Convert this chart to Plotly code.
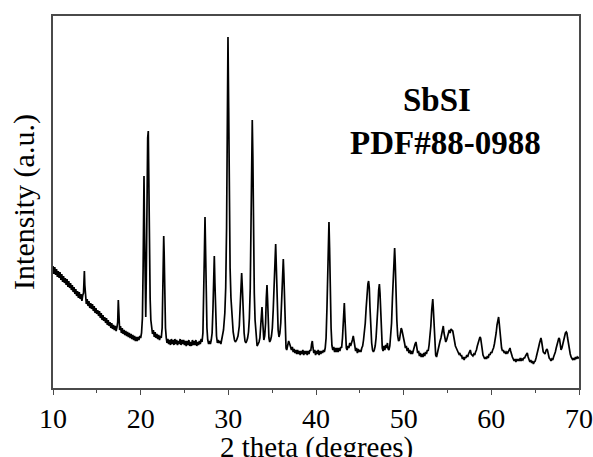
#!/usr/bin/env python3

import plotly.graph_objects as go

# XRD pattern (intensity in arbitrary units).
two_theta = [
    10.0, 10.1, 10.2, 10.3, 10.4, 10.5, 10.6, 10.7, 10.8, 10.9, 11.0, 11.1, 11.2, 11.3, 11.4, 11.5,
    11.6, 11.7, 11.8, 11.9, 12.0, 12.1, 12.2, 12.3, 12.4, 12.5, 12.6, 12.7, 12.8, 12.9, 13.0, 13.1,
    13.2, 13.3, 13.4, 13.48, 13.53, 13.58, 13.63, 13.7, 13.8, 13.9, 14.0, 14.1, 14.2, 14.3, 14.4,
    14.5, 14.6, 14.7, 14.8, 14.9, 15.0, 15.1, 15.2, 15.3, 15.4, 15.5, 15.6, 15.7, 15.8, 15.9, 16.0,
    16.1, 16.2, 16.3, 16.4, 16.5, 16.6, 16.7, 16.8, 16.9, 17.0, 17.1, 17.2, 17.3, 17.38, 17.45,
    17.52, 17.6, 17.7, 17.8, 17.9, 18.0, 18.1, 18.2, 18.3, 18.4, 18.5, 18.6, 18.7, 18.8, 18.9, 19.0,
    19.1, 19.2, 19.3, 19.4, 19.5, 19.6, 19.7, 19.8, 19.9, 20.0, 20.1, 20.2, 20.28, 20.34, 20.38,
    20.45, 20.52, 20.58, 20.64, 20.72, 20.8, 20.87, 20.93, 21.0, 21.08, 21.16, 21.25, 21.35, 21.45,
    21.55, 21.65, 21.75, 21.85, 21.95, 22.05, 22.15, 22.25, 22.35, 22.45, 22.52, 22.58, 22.63,
    22.68, 22.75, 22.83, 22.92, 23.0, 23.1, 23.2, 23.3, 23.4, 23.5, 23.6, 23.7, 23.8, 23.9, 24.0,
    24.1, 24.2, 24.3, 24.4, 24.5, 24.6, 24.7, 24.8, 24.9, 25.0, 25.1, 25.2, 25.3, 25.4, 25.5, 25.6,
    25.7, 25.8, 25.9, 26.0, 26.1, 26.2, 26.3, 26.4, 26.5, 26.6, 26.7, 26.8, 26.9, 27.0, 27.1, 27.2,
    27.28, 27.34, 27.4, 27.48, 27.56, 27.65, 27.75, 27.85, 27.95, 28.05, 28.15, 28.25, 28.33, 28.4,
    28.47, 28.55, 28.65, 28.75, 28.85, 28.95, 29.05, 29.15, 29.3, 29.45, 29.6, 29.7, 29.8, 29.88,
    29.96, 30.04, 30.12, 30.2, 30.3, 30.42, 30.55, 30.7, 30.8, 30.95, 31.1, 31.25, 31.35, 31.45,
    31.52, 31.6, 31.7, 31.8, 31.9, 32.0, 32.1, 32.2, 32.3, 32.4, 32.5, 32.6, 32.67, 32.73, 32.8,
    32.88, 32.96, 33.05, 33.15, 33.28, 33.4, 33.5, 33.6, 33.7, 33.78, 33.84, 33.9, 33.98, 34.05,
    34.15, 34.25, 34.33, 34.41, 34.48, 34.55, 34.63, 34.72, 34.82, 34.92, 35.02, 35.12, 35.22,
    35.32, 35.4, 35.48, 35.58, 35.68, 35.78, 35.88, 35.98, 36.06, 36.14, 36.22, 36.27, 36.33,
    36.42, 36.5, 36.58, 36.66, 36.76, 36.88, 37.0, 37.1, 37.2, 37.3, 37.4, 37.5, 37.6, 37.7, 37.8,
    37.9, 38.0, 38.1, 38.2, 38.3, 38.4, 38.5, 38.6, 38.7, 38.8, 38.9, 39.0, 39.1, 39.2, 39.3, 39.4,
    39.5, 39.58, 39.66, 39.75, 39.85, 39.95, 40.05, 40.15, 40.25, 40.35, 40.45, 40.55, 40.65,
    40.75, 40.85, 40.95, 41.05, 41.15, 41.25, 41.33, 41.41, 41.48, 41.55, 41.63, 41.72, 41.82,
    41.92, 42.02, 42.12, 42.22, 42.32, 42.42, 42.52, 42.62, 42.72, 42.82, 42.92, 43.02, 43.1,
    43.17, 43.23, 43.3, 43.38, 43.46, 43.55, 43.65, 43.75, 43.85, 43.95, 44.05, 44.15, 44.25,
    44.33, 44.42, 44.52, 44.62, 44.72, 44.82, 44.92, 45.02, 45.12, 45.22, 45.32, 45.42, 45.52,
    45.62, 45.72, 45.82, 45.92, 46.0, 46.08, 46.16, 46.25, 46.35, 46.45, 46.55, 46.65, 46.75,
    46.85, 46.95, 47.05, 47.15, 47.23, 47.3, 47.38, 47.47, 47.56, 47.65, 47.75, 47.85, 47.95,
    48.05, 48.15, 48.23, 48.32, 48.42, 48.52, 48.62, 48.72, 48.82, 48.9, 48.97, 49.04, 49.12,
    49.22, 49.32, 49.42, 49.52, 49.62, 49.72, 49.8, 49.9, 50.0, 50.1, 50.2, 50.3, 50.4, 50.5, 50.6,
    50.7, 50.8, 50.9, 51.0, 51.1, 51.2, 51.3, 51.4, 51.5, 51.6, 51.7, 51.8, 51.9, 52.0, 52.1, 52.2,
    52.3, 52.4, 52.5, 52.6, 52.7, 52.8, 52.9, 53.0, 53.1, 53.2, 53.27, 53.32, 53.38, 53.46, 53.55,
    53.65, 53.75, 53.85, 53.95, 54.05, 54.15, 54.25, 54.35, 54.45, 54.52, 54.6, 54.7, 54.8, 54.9,
    55.0, 55.1, 55.2, 55.3, 55.4, 55.5, 55.6, 55.7, 55.8, 55.9, 56.0, 56.1, 56.2, 56.3, 56.4, 56.5,
    56.6, 56.7, 56.8, 56.9, 57.0, 57.1, 57.2, 57.3, 57.4, 57.5, 57.6, 57.7, 57.8, 57.9, 58.0, 58.1,
    58.2, 58.3, 58.4, 58.5, 58.6, 58.7, 58.78, 58.86, 58.95, 59.05, 59.15, 59.25, 59.35, 59.45,
    59.55, 59.65, 59.75, 59.85, 59.95, 60.05, 60.15, 60.25, 60.35, 60.45, 60.55, 60.65, 60.75,
    60.83, 60.9, 60.98, 61.07, 61.17, 61.27, 61.37, 61.47, 61.57, 61.67, 61.77, 61.87, 61.97,
    62.07, 62.13, 62.2, 62.3, 62.4, 62.5, 62.6, 62.7, 62.8, 62.9, 63.0, 63.1, 63.2, 63.3, 63.4,
    63.5, 63.6, 63.7, 63.8, 63.9, 64.0, 64.1, 64.2, 64.3, 64.4, 64.5, 64.6, 64.7, 64.8, 64.9, 65.0,
    65.1, 65.2, 65.3, 65.4, 65.5, 65.6, 65.66, 65.73, 65.82, 65.92, 66.02, 66.12, 66.22, 66.32,
    66.4, 66.5, 66.6, 66.7, 66.8, 66.9, 67.0, 67.1, 67.2, 67.3, 67.4, 67.5, 67.6, 67.7, 67.78,
    67.86, 67.95, 68.05, 68.15, 68.25, 68.35, 68.45, 68.55, 68.62, 68.7, 68.8, 68.9, 69.0, 69.1,
    69.2, 69.3, 69.4, 69.5, 69.6, 69.7, 69.8, 69.9, 70.0,
]

intensity = [
    122, 114, 121, 113, 119, 111, 117, 110, 116, 108, 114, 106, 112, 105, 110, 103,
    109, 101, 107, 100, 105, 98, 103, 96, 101, 94, 99, 92, 97, 90, 96, 89,
    94, 87, 93, 95, 106, 117, 103, 90, 84, 89, 82, 87, 80, 85, 79,
    84, 77, 82, 75, 80, 74, 78, 72, 77, 70, 75, 68, 73, 67, 71, 65,
    70, 63, 68, 62, 66, 60, 65, 59, 63, 58, 62, 57, 61, 66, 88,
    70, 58, 62, 55, 60, 54, 58, 53, 57, 52, 56, 51, 55, 50, 54, 49,
    53, 48, 52, 47, 51, 47, 51, 48, 52, 50, 55, 70, 120, 190, 212,
    150, 80, 71, 110, 200, 250, 257, 200, 130, 90, 68, 60, 54, 58,
    51, 56, 50, 54, 49, 53, 48, 52, 50, 60, 100, 140, 152,
    135, 90, 60, 50, 45, 49, 44, 48, 43, 49, 44, 48, 43, 49, 44,
    48, 43, 47, 44, 49, 43, 48, 44, 48, 43, 47, 42, 47, 43, 48, 42,
    46, 42, 48, 43, 47, 43, 48, 42, 46, 43, 47, 44, 49, 46, 55, 90,
    140, 171, 140, 90, 60, 48, 44, 47, 44, 48, 55, 80, 115, 132,
    105, 70, 52, 45, 48, 45, 47, 44, 50, 58, 75, 100, 160, 270,
    351, 280, 180, 120, 90, 68, 56, 48, 46, 48, 52, 62, 85, 108,
    115, 100, 72, 55, 47, 45, 47, 50, 56, 70, 100, 180, 250, 268, 230,
    150, 95, 68, 52, 42, 44, 46, 50, 60, 75, 81, 70, 52, 48,
    52, 65, 90, 103, 88, 62, 50, 46, 48, 52, 60, 78, 110,
    138, 144, 120, 80, 58, 51, 55, 65, 85, 112, 127, 129, 115,
    80, 50, 40, 38, 43, 47, 44, 40, 38, 41, 36, 39, 35, 38, 34,
    38, 34, 37, 33, 37, 34, 38, 33, 37, 34, 37, 33, 37, 34, 38, 37,
    44, 47, 40, 35, 38, 33, 37, 34, 38, 33, 37, 34, 37,
    35, 38, 36, 40, 50, 80, 120, 160, 166, 140, 95, 60, 42,
    38, 41, 36, 40, 36, 40, 36, 40, 37, 41, 40, 50, 65,
    80, 85, 70, 48, 40, 38, 42, 40, 45, 42, 47, 48, 52,
    46, 42, 37, 40, 35, 39, 36, 38, 36, 40, 42, 48, 55,
    65, 80, 95, 104, 107, 100, 80, 60, 45, 38, 36, 38, 42,
    50, 62, 80, 98, 104, 95, 70, 50, 40, 37, 42, 38, 43,
    40, 45, 39, 38, 42, 50, 65, 90, 120, 136, 140, 125, 95,
    68, 52, 47, 48, 54, 60, 58, 52, 48, 45, 40, 42, 37, 40, 35,
    38, 34, 37, 34, 38, 40, 44, 46, 40, 35, 37, 32, 35, 31, 34, 31,
    35, 32, 36, 34, 38, 37, 43, 50, 62, 78, 86, 89, 80, 60, 42,
    33, 31, 36, 40, 44, 47, 50, 55, 60, 62, 55, 48, 46, 48,
    52, 56, 58, 55, 59, 58, 57, 52, 46, 42, 40, 38, 36, 34, 35, 32,
    33, 29, 31, 28, 31, 30, 33, 31, 34, 36, 38, 34, 33, 32, 34, 33,
    36, 38, 42, 45, 48, 51, 50, 44, 38, 33, 31, 29, 31, 29,
    32, 30, 34, 33, 36, 35, 38, 40, 44, 48, 55, 63, 70,
    71, 65, 55, 45, 40, 37, 38, 35, 36, 34, 36, 35, 37,
    40, 40, 37, 33, 31, 29, 27, 29, 26, 29, 27, 29, 27, 30, 27,
    29, 28, 30, 30, 32, 33, 35, 31, 28, 26, 28, 25, 27, 24, 26, 27,
    30, 33, 37, 41, 45, 49, 50, 47, 40, 36, 35, 34, 37, 39,
    38, 33, 30, 29, 27, 29, 28, 31, 33, 36, 40, 44, 48, 50, 49,
    43, 38, 40, 44, 48, 52, 55, 56, 55, 50, 43, 37, 34, 31,
    29, 28, 30, 28, 31, 29, 31, 30, 31,
]

label_sample = "SbSI"
label_card = "PDF#88-0988"
x_title = "2 theta (degrees)"
y_title = "Intensity (a.u.)"

serif = "Liberation Serif"
frame = "#4a4a4a"

fig = go.Figure()
fig.add_trace(go.Scatter(
    x=two_theta, y=intensity, mode="lines",
    line=dict(color="black", width=1.7),
    showlegend=False, hoverinfo="skip"))

fig.update_layout(
    width=593, height=457,
    margin=dict(l=53, r=14, t=16, b=69),
    paper_bgcolor="white", plot_bgcolor="white",
    font=dict(family=serif, color="black"),
)

fig.update_xaxes(
    range=[10, 70], dtick=10, tick0=10, automargin=False,
    showline=True, linecolor=frame, linewidth=1.5, mirror=True,
    ticks="outside", ticklen=5, tickwidth=1.3, tickcolor=frame,
    minor=dict(dtick=5, ticks="outside", ticklen=3, tickwidth=1.2, tickcolor=frame),
    showgrid=False, zeroline=False,
    tickfont=dict(size=28, family=serif), ticklabelstandoff=0,
)

fig.update_yaxes(
    range=[0, 372], automargin=False,
    showline=True, linecolor=frame, linewidth=1.5, mirror=True,
    showticklabels=False, ticks="", showgrid=False, zeroline=False,
    title=dict(text=y_title, font=dict(size=30, family=serif), standoff=8),
)

# The x title sits low and is cut by the bottom edge, as in the original figure.
fig.add_annotation(
    text=x_title, xref="paper", yref="paper",
    x=0.5, y=-0.110, xanchor="center", yanchor="top", showarrow=False,
    font=dict(size=29, family=serif, color="black"))

fig.add_annotation(
    text="<b>" + label_sample + "</b>", xref="paper", yref="paper",
    x=0.730, y=0.775, xanchor="center", yanchor="middle", showarrow=False,
    font=dict(size=33, family=serif, color="black"))
fig.add_annotation(
    text="<b>" + label_card + "</b>", xref="paper", yref="paper",
    x=0.747, y=0.659, xanchor="center", yanchor="middle", showarrow=False,
    font=dict(size=33, family=serif, color="black"))

# Drop the default page margin so the figure sits at the window's corner.
fig.write_html(
    "out.html",
    config={"displayModeBar": False},
    post_script="document.body.style.margin='0';document.body.style.overflow='hidden';")
